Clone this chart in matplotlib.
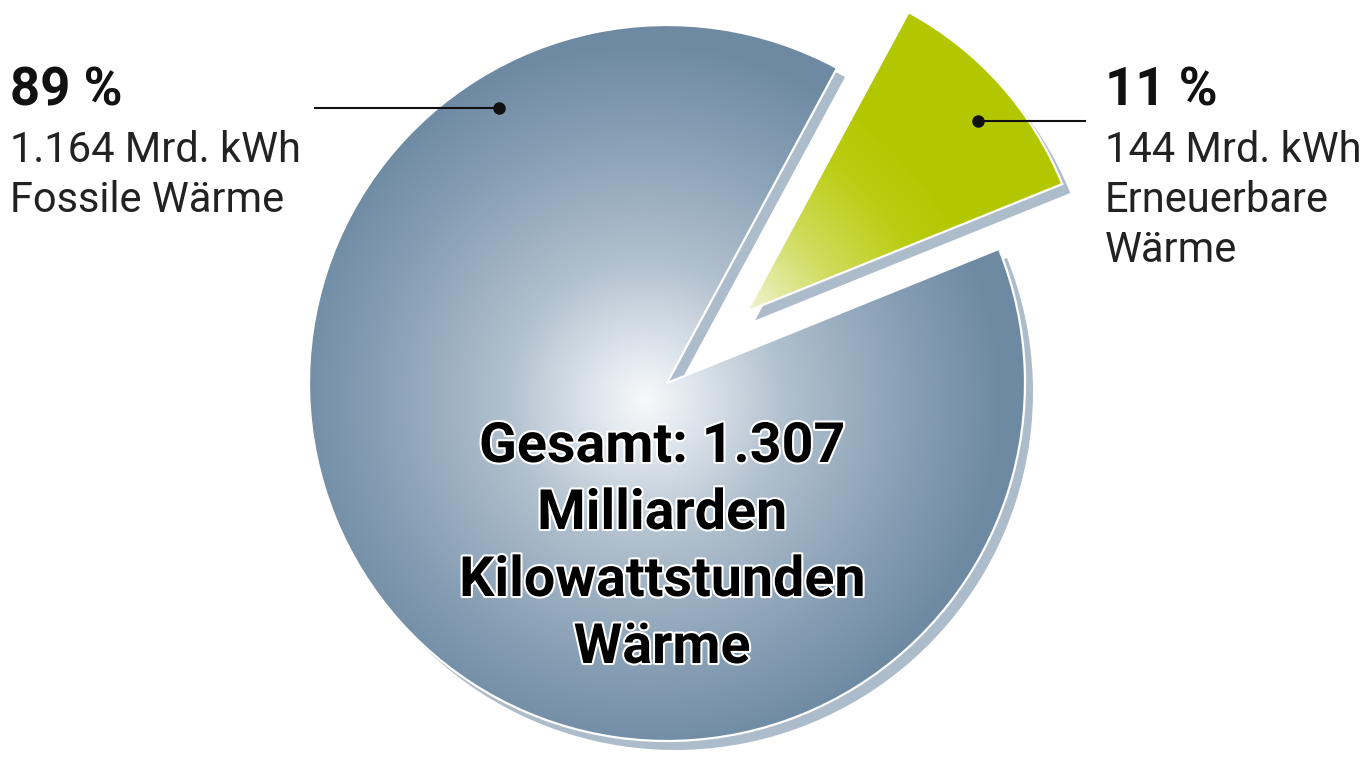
import numpy as np
import matplotlib
matplotlib.use('Agg')
import matplotlib.pyplot as plt
import matplotlib.patheffects as pe
from matplotlib.colors import LinearSegmentedColormap

# data (Mrd. kWh)
names = [['Erneuerbare', 'Wärme'], ['Fossile Wärme']]
values = [144, 1164]
shares = ['11 %', '89 %']
amounts = ['144 Mrd. kWh', '1.164 Mrd. kWh']
total_lines = ['Gesamt: 1.307', 'Milliarden', 'Kilowattstunden', 'Wärme']

plt.rcParams['font.family'] = ['Roboto', 'DejaVu Sans']

W, H = 1371, 758
fig = plt.figure(figsize=(W / 100, H / 100), dpi=100)
ax = fig.add_axes([0, 0, 1, 1])

cx, cy, R = 667, H - 383, 358
r_green = 340
# explode is in data units for pie
pie_kw = dict(startangle=22, counterclock=True, explode=[0.30 * R, 0], radius=R)

# shadow / 3D edge
shadow, _ = ax.pie(values, center=(cx + 8, cy - 9), colors=['#adbccb'] * 2,
                   wedgeprops=dict(linewidth=0), **pie_kw)
for w in shadow:
    w.set_zorder(1)
shadow[0].set_radius(r_green)

wedges, _ = ax.pie(values, center=(cx, cy), colors=['none'] * 2,
                   wedgeprops=dict(edgecolor='white', linewidth=1.6), **pie_kw)
for w in wedges:
    w.set_zorder(3)
wedges[0].set_radius(r_green)

# radial gradients clipped to the wedges
gx, gy = 645, H - 400
yy, xx = np.mgrid[0:H, 0:W] + 0.5
dist = np.clip(np.hypot(xx - gx, yy - gy) / R, 0, 1)
blue = LinearSegmentedColormap.from_list('b', [(0, '#f7f9fb'), (0.15, '#dde5ec'), (0.4, '#b0bfcd'),
                                               (0.7, '#8ca3b8'), (1, '#6e8aa3')])
green = LinearSegmentedColormap.from_list('g', [(0, '#fafcf2'), (0.38, '#f0f4d2'), (0.62, '#d0dc5e'),
                                                (0.85, '#bacd12'), (1, '#b3c700')])
for w, cm in zip(wedges, [green, blue]):
    im = ax.imshow(cm(dist), extent=(0, W, 0, H), origin='lower', zorder=2, interpolation='bilinear')
    im.set_clip_path(w)

# leader dots and lines
dots = [(39.5, 0.88, 1085), (121.5, 0.9, 315)]
for w, (ang, rr, xend) in zip(wedges, dots):
    x0, y0 = w.center
    dx = x0 + rr * w.r * np.cos(np.radians(ang))
    dy = y0 + rr * w.r * np.sin(np.radians(ang))
    ax.plot([dx, xend], [dy, dy], color='#111111', lw=1.5, zorder=4)
    ax.plot(dx, dy, 'o', color='#111111', ms=8, zorder=5)

# labels
for xt, share, amount, name in zip([1105, 10], shares, amounts, names):
    ax.text(xt, H - 105, share, fontsize=38, fontweight='bold', ha='left', va='baseline', color='#111111')
    for i, line in enumerate([amount] + name):
        ax.text(xt, H - 162 - 50 * i, line, fontsize=30, ha='left', va='baseline', color='#222222')

for i, line in enumerate(total_lines):
    ax.text(cx - 5, H - 462 - 67 * i, line, fontsize=40, fontweight='bold', ha='center', va='baseline',
            color='black', path_effects=[pe.withStroke(linewidth=3, foreground='white')], zorder=6)

ax.set_xlim(0, W)
ax.set_ylim(0, H)
ax.set_aspect('equal')
ax.axis('off')
fig.savefig('out.png', dpi=100, facecolor='white')
